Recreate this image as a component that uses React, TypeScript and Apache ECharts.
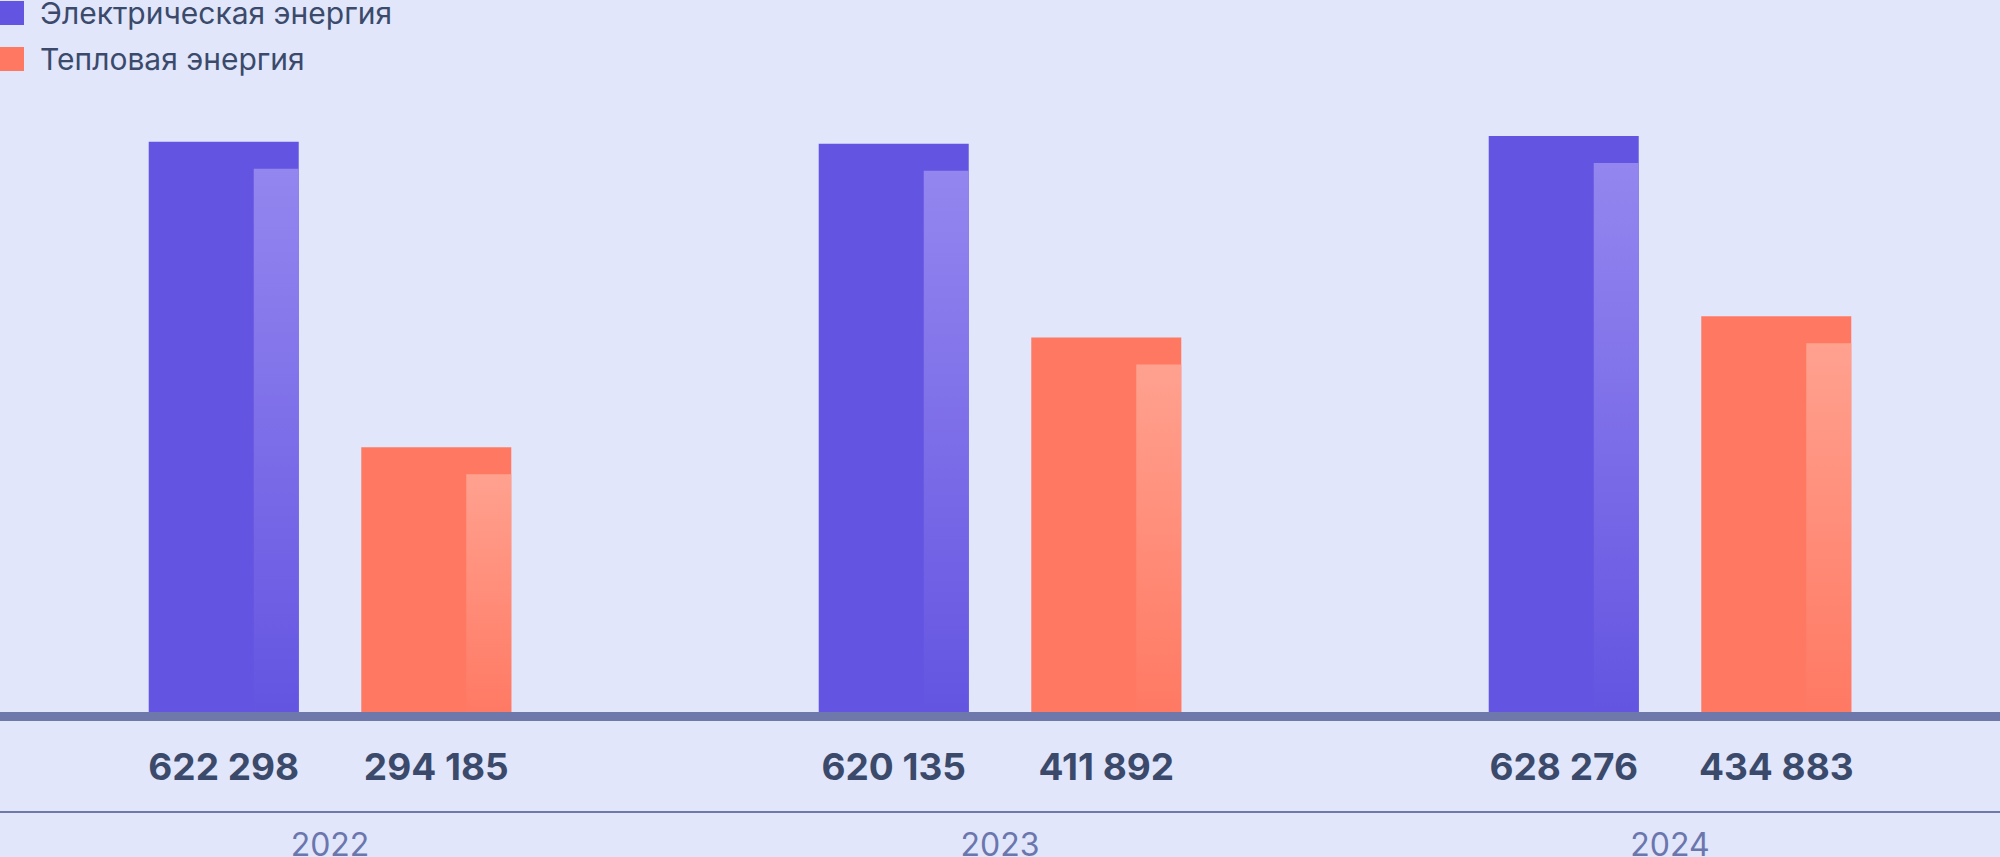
import React, { useEffect, useRef } from "react";
import * as echarts from "echarts";

const years = ["2022", "2023", "2024"];
const electricity = [622298, 620135, 628276];
const heat = [294185, 411892, 434883];
const seriesNames = ["Электрическая энергия", "Тепловая энергия"];

const BLUE = "#6354e1";
const BLUE_LIGHT = "#9486ef";
const ORANGE = "#ff7862";
const ORANGE_LIGHT = "#ffa18f";
const TEXT = "#3b4a6b";
const AXIS = "#6f78ab";

const fmt = (v: number) => String(v).replace(/\B(?=(\d{3})+(?!\d))/g, " ");

function stripSeries(values: number[], side: number, top: string, bottom: string) {
  return {
    type: "custom",
    z: 3,
    silent: true,
    data: values.map((v, i) => [i, v]),
    renderItem: (params: any, api: any) => {
      const idx = api.value(0);
      const val = api.value(1);
      const band = api.size([1, 0])[0];
      const barW = band * 0.2239;
      const center = api.coord([idx, val])[0] + side * band * 0.1586;
      const topY = api.coord([idx, val])[1] + 27;
      const baseY = api.coord([idx, 0])[1];
      const stripW = barW * 0.3;
      const x = center + barW / 2 - stripW;
      return {
        type: "rect",
        shape: { x, y: topY, width: stripW, height: baseY - topY },
        style: {
          fill: new echarts.graphic.LinearGradient(0, 0, 0, 1, [
            { offset: 0, color: top },
            { offset: 1, color: bottom },
          ]),
        },
      };
    },
  };
}

export default function App() {
  const ref = useRef<HTMLDivElement>(null);
  useEffect(() => {
    if (!ref.current) return;
    const chart = echarts.init(ref.current, null, { renderer: "svg" });
    const label = {
      show: true,
      position: "bottom",
      distance: 27,
      fontSize: 37,
      fontWeight: "bold",
      fontFamily: "Inter",
      color: TEXT,
      formatter: (p: any) => fmt(p.value),
    };
    chart.setOption({
      animation: false,
      backgroundColor: "#e1e6fb",
      legend: {
        data: seriesNames,
        orient: "vertical",
        left: 0,
        top: -2,
        padding: 0,
        icon: "rect",
        itemWidth: 24,
        itemHeight: 24,
        itemGap: 16,
        selectedMode: false,
        textStyle: {
          fontSize: 30,
          fontFamily: "Inter",
          color: TEXT,
          padding: [0, 0, 0, 11],
        },
      },
      grid: {
        left: -5,
        width: 2010,
        top: 0,
        bottom: 136,
        outerBoundsMode: "none",
        containLabel: false,
      },
      xAxis: [
        {
          type: "category",
          data: years,
          z: 10,
          offset: -4.5,
          axisLine: { show: true, lineStyle: { color: AXIS, width: 9 } },
          axisTick: { show: false },
          axisLabel: { show: false },
        },
        {
          type: "category",
          data: years,
          position: "bottom",
          offset: 91,
          axisLine: { show: true, lineStyle: { color: AXIS, width: 2 } },
          axisTick: { show: false },
          axisLabel: { show: true, fontSize: 32, fontFamily: "Inter", color: "#6b76ad", margin: 16 },
        },
      ],
      yAxis: { type: "value", min: 0, max: 774500, show: false, splitLine: { show: false } },
      series: [
        {
          name: seriesNames[0],
          type: "bar",
          data: electricity,
          barWidth: 150,
          barGap: "41.7%",
          itemStyle: { color: BLUE },
          label,
        },
        {
          name: seriesNames[1],
          type: "bar",
          data: heat,
          barWidth: 150,
          barGap: "41.7%",
          itemStyle: { color: ORANGE },
          label,
        },
        stripSeries(electricity, -1, BLUE_LIGHT, BLUE),
        stripSeries(heat, 1, ORANGE_LIGHT, ORANGE),
      ],
    });
    return () => chart.dispose();
  }, []);
  return (
    <div
      ref={ref}
      style={{ position: "absolute", left: 0, top: 0, width: 2000, height: 857 }}
    />
  );
}
